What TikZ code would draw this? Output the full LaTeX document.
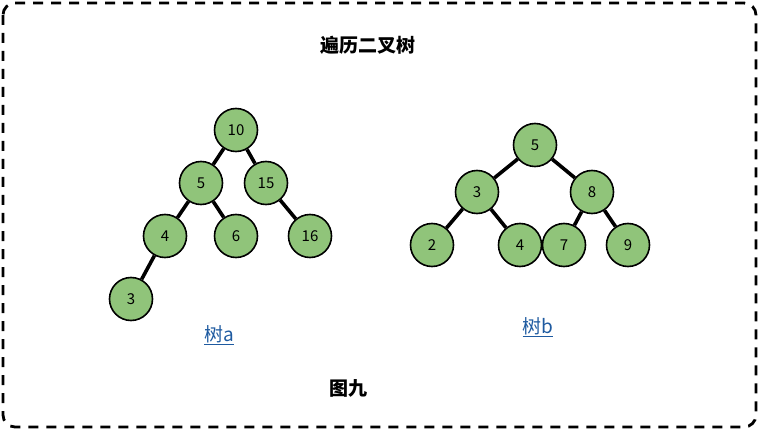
\documentclass[tikz,border=0pt]{standalone}
\usepackage{fontspec}
\setmainfont{Noto Sans CJK SC}
\usepackage{xcolor}
\definecolor{leafgreen}{RGB}{144,196,122}
\definecolor{linkblue}{RGB}{30,90,160}

\begin{document}
\begin{tikzpicture}[x=1pt, y=-1pt,
  treenode/.style={circle, draw=black, line width=1.6pt, fill=leafgreen,
    minimum size=43pt, inner sep=0pt, font=\fontsize{15}{17}\selectfont},
  treeedge/.style={line width=3.6pt, black},
  caption/.style={font=\fontsize{19}{22}\selectfont\bfseries},
  treelabel/.style={text=linkblue, font=\fontsize{19}{22}\selectfont}]

\useasboundingbox (0, 0) rectangle (759, 430);

% frame
\draw [line width=2.8pt, dash pattern=on 10pt off 8pt, rounded corners=12pt]
  (3, 3) rectangle (756, 427);

% title
\node (title) at (368, 45) [caption] {遍历二叉树};

%% tree a
\node (a10) at (236, 130) [treenode] {10};
\node (a5)  at (201, 183) [treenode] {5};
\node (a15) at (266, 183) [treenode] {15};
\node (a4)  at (165, 236) [treenode] {4};
\node (a6)  at (236, 236) [treenode] {6};
\node (a16) at (310, 236) [treenode] {16};
\node (a3)  at (131, 299) [treenode] {3};

% edges of a
\draw [treeedge] (a10) -- (a5);
\draw [treeedge] (a10) -- (a15);
\draw [treeedge] (a5) -- (a4);
\draw [treeedge] (a5) -- (a6);
\draw [treeedge] (a15) -- (a16);
\draw [treeedge] (a4) -- (a3);

\node (labela) at (219, 335) [treelabel] {\underline{树a}};

%% tree b
\node (b5) at (535, 145) [treenode] {5};
\node (b3) at (477, 192) [treenode] {3};
\node (b8) at (592, 192) [treenode] {8};
\node (b2) at (432, 245) [treenode] {2};
\node (b4) at (520, 245) [treenode] {4};
\node (b7) at (564, 245) [treenode] {7};
\node (b9) at (628, 245) [treenode] {9};

% edges of b
\draw [treeedge] (b5) -- (b3);
\draw [treeedge] (b5) -- (b8);
\draw [treeedge] (b3) -- (b2);
\draw [treeedge] (b3) -- (b4);
\draw [treeedge] (b8) -- (b7);
\draw [treeedge] (b8) -- (b9);

\node (labelb) at (538, 327) [treelabel] {\underline{树b}};

% figure caption
\node (figno) at (348, 388) [caption] {图九};

\end{tikzpicture}
\end{document}
